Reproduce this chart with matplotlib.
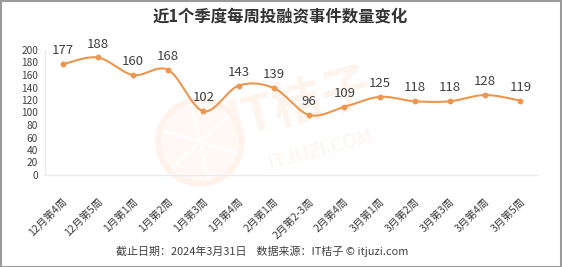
import matplotlib
matplotlib.use("Agg")
import matplotlib.pyplot as plt
import numpy as np
from matplotlib.patches import Rectangle, Circle

plt.rcParams['font.family'] = ['Noto Sans CJK SC', 'DejaVu Sans']

categories = ["12月第4周", "12月第5周", "1月第1周", "1月第2周", "1月第3周", "1月第4周",
              "2月第1周", "2月第2-3周", "2月第4周", "3月第1周", "3月第2周", "3月第3周",
              "3月第4周", "3月第5周"]
values = [177, 188, 160, 168, 102, 143, 139, 96, 109, 125, 118, 118, 128, 119]
yticks = list(range(0, 201, 20))

title = "近1个季度每周投融资事件数量变化"
footer = "截止日期：2024年3月31日    数据来源：IT桔子 © itjuzi.com"

LINE = "#EC9650"
TXT = "#404040"

W, H = 562, 267
fig = plt.figure(figsize=(W / 100, H / 100), dpi=100)
fig.patch.set_facecolor("white")

# very faint watermark (logo + text)
wm = fig.add_axes([0, 0, 1, 1], zorder=0)
wm.set_xlim(0, W); wm.set_ylim(H, 0); wm.axis("off")
wm.add_patch(Circle((200, 142), 42, facecolor="#FFF8F4", edgecolor="#FEF2EB", lw=4))
for ang in np.linspace(0, 2 * np.pi, 7)[:-1] + 0.3:
    wm.plot([200, 200 + 38 * np.cos(ang)], [142, 142 + 38 * np.sin(ang)],
            color="white", lw=2)
wm.text(300, 105, "IT桔子", fontsize=36, color="#FEF4EE", rotation=15,
        ha="center", va="center", fontweight="bold")
wm.text(320, 150, "ITJUZI.COM", fontsize=14, color="#FEF4EE", rotation=15,
        ha="center", va="center")

n = len(categories)
ax = fig.add_axes([45 / W, 1 - 175 / H, (538 - 45) / W, 125 / H], zorder=1)
ax.set_xlim(-0.5, n - 0.5)
ax.set_ylim(0, 200)

# smooth (cardinal spline) drawing through the data points
x = np.arange(n, dtype=float)
y = np.array(values, dtype=float)
xs, ys = [], []
t = np.linspace(0, 1, 30)
for i in range(n - 1):
    p0 = np.array([x[max(i - 1, 0)], y[max(i - 1, 0)]])
    p1 = np.array([x[i], y[i]])
    p2 = np.array([x[i + 1], y[i + 1]])
    p3 = np.array([x[min(i + 2, n - 1)], y[min(i + 2, n - 1)]])
    m1 = (p2 - p0) * 0.5
    m2 = (p3 - p1) * 0.5
    if i == 0:
        m1 = (p2 - p1) * 0.5
    if i == n - 2:
        m2 = (p2 - p1) * 0.5
    h00 = 2 * t**3 - 3 * t**2 + 1
    h10 = t**3 - 2 * t**2 + t
    h01 = -2 * t**3 + 3 * t**2
    h11 = t**3 - t**2
    seg = (np.outer(h00, p1) + np.outer(h10, m1) + np.outer(h01, p2) + np.outer(h11, m2))
    xs.extend(seg[:, 0]); ys.extend(seg[:, 1])
ax.plot(xs, ys, color=LINE, lw=1.5, solid_capstyle="round", zorder=3)
ax.plot(x, y, "o", color=LINE, ms=3.2, zorder=4)

for xi, yi in zip(x, y):
    ax.annotate(str(int(yi)), (xi, yi), xytext=(0, 5), textcoords="offset points",
                ha="center", va="bottom", fontsize=9.5, color=TXT)

ax.set_xticks(x)
ax.set_xticklabels(categories, rotation=45, ha="right", rotation_mode="anchor",
                   fontsize=7.6, color=TXT)
ax.set_yticks(yticks)
ax.set_yticklabels([str(v) for v in yticks], fontsize=7.3, color=TXT)
ax.tick_params(axis="both", length=0)
ax.tick_params(axis="x", pad=16)
ax.tick_params(axis="y", pad=5)
for s in ["top", "right"]:
    ax.spines[s].set_visible(False)
for s in ["left", "bottom"]:
    ax.spines[s].set_color("#EBEBEB")
    ax.spines[s].set_linewidth(1.0)
ax.set_facecolor("none")

fig.text(280 / W, 1 - 17 / H, title, fontsize=11.8, fontweight="bold", color="#333333",
         ha="center", va="center")
fig.text(262 / W, 1 - 251 / H, footer, fontsize=7.9, color=TXT, ha="center", va="center")

fig.add_artist(Rectangle((0.5 / W, 0.5 / H), 1 - 1.5 / W, 1 - 1.5 / H, transform=fig.transFigure,
                         fill=False, edgecolor="#9A9A9A", lw=1.5))

fig.savefig("out.png", dpi=100, facecolor="white")
